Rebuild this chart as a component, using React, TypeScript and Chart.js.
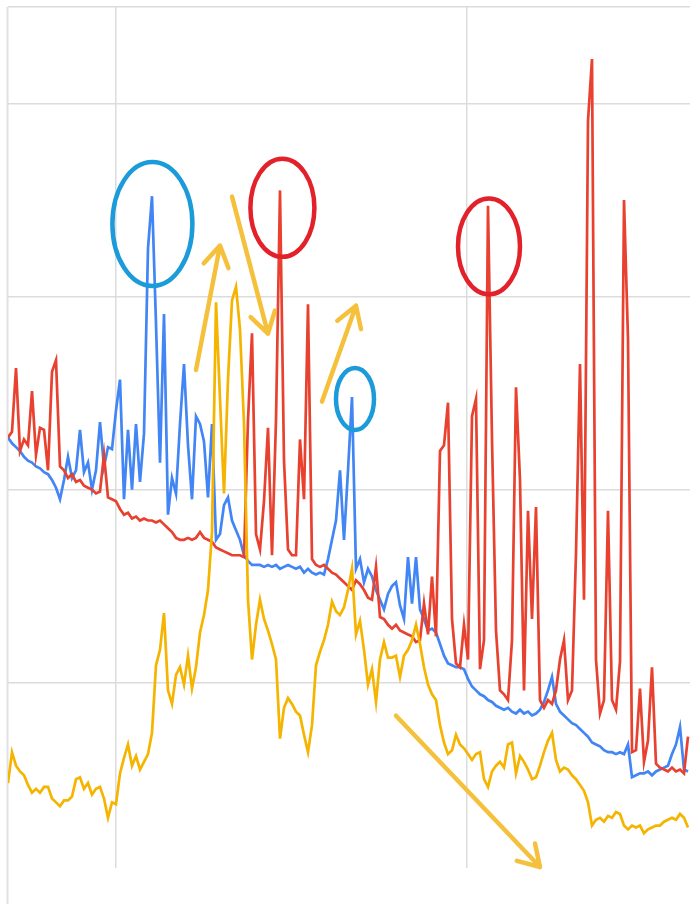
import React, { useEffect, useRef } from "react";
import { Chart, registerables } from "chart.js";

Chart.register(...registerables);

// Weekly interest index (0 = first week shown)
const redSeries: number[] = [
  227, 230, 263, 220, 226, 223, 251, 218, 232, 231,
  210, 261, 267, 212, 210, 206, 208, 204, 205, 202,
  201, 200, 198, 199, 218, 196, 195, 194, 190, 187,
  188, 185, 186, 184, 185, 184, 184, 183, 184, 182,
  180, 178, 175, 174, 174, 175, 174, 175, 178, 175,
  174, 173, 170, 169, 168, 167, 166, 166, 166, 165,
  236, 281, 177, 169, 194, 232, 166, 236, 355, 215,
  169, 166, 166, 226, 195, 296, 164, 161, 160, 161,
  159, 157, 156, 154, 152, 150, 148, 153, 151, 148,
  144, 143, 160, 134, 133, 130, 128, 130, 127, 126,
  125, 124, 121, 122, 141, 125, 155, 124, 220, 223,
  245, 133, 110, 108, 130, 112, 238, 247, 107, 122,
  347, 226, 127, 96, 94, 91, 122, 253, 205, 96,
  189, 133, 191, 91, 87, 91, 89, 96, 112, 122,
  91, 96, 167, 265, 143, 391, 423, 112, 84, 91,
  189, 91, 86, 111, 350, 278, 64, 65, 97, 59,
  70, 108, 58, 56, 55, 54, 56, 54, 55, 53,
  72,
];

const blueSeries: number[] = [
  227, 224, 222, 220, 217, 215, 214, 212, 211, 209,
  208, 205, 201, 195, 205, 217, 206, 210, 231, 209,
  214, 200, 210, 235, 212, 222, 221, 241, 257, 195,
  231, 200, 234, 204, 229, 325, 352, 286, 214, 291,
  187, 206, 198, 234, 265, 223, 195, 238, 234, 225,
  196, 234, 174, 177, 192, 196, 184, 179, 174, 166,
  163, 161, 161, 161, 160, 161, 160, 161, 159, 160,
  161, 160, 159, 160, 157, 159, 157, 156, 157, 156,
  164, 174, 184, 210, 174, 210, 248, 159, 164, 152,
  159, 155, 148, 143, 138, 146, 150, 152, 140, 133,
  165, 141, 165, 138, 133, 127, 128, 126, 120, 114,
  110, 109, 108, 108, 107, 102, 98, 96, 94, 93,
  91, 90, 88, 87, 86, 87, 85, 84, 86, 84,
  85, 83, 84, 86, 90, 96, 103, 89, 85, 83,
  81, 79, 78, 76, 74, 72, 69, 68, 67, 65,
  64, 64, 63, 64, 63, 68, 51, 52, 53, 53,
  54, 52, 54, 55, 56, 57, 63, 68, 77, 55,
  54,
];

const yellowSeries: number[] = [
  48, 64, 57, 54, 52, 47, 43, 45, 43, 46,
  46, 40, 38, 36, 39, 39, 41, 50, 51, 45,
  48, 42, 45, 46, 40, 30, 38, 37, 53, 61,
  68, 57, 62, 55, 59, 63, 74, 109, 117, 136,
  96, 89, 104, 108, 99, 114, 97, 108, 126, 135,
  148, 178, 297, 247, 198, 257, 298, 305, 283, 234,
  143, 112, 130, 143, 133, 127, 120, 112, 71, 87,
  92, 89, 85, 83, 73, 64, 78, 109, 116, 122,
  130, 142, 137, 135, 139, 148, 159, 125, 132, 117,
  99, 107, 90, 112, 121, 113, 113, 114, 103, 114,
  117, 122, 130, 120, 108, 99, 94, 91, 78, 69,
  63, 65, 73, 68, 66, 63, 60, 63, 64, 50,
  46, 54, 57, 59, 56, 68, 69, 53, 62, 59,
  55, 50, 51, 57, 64, 70, 74, 60, 54, 56,
  55, 52, 50, 47, 44, 38, 26, 29, 30, 28,
  31, 30, 33, 32, 26, 24, 26, 25, 26, 22,
  24, 25, 26, 26, 28, 29, 30, 29, 32, 30,
  25,
];

// Year boundaries (week index) and value gridlines
const yearTicks: number[] = [27, 114.75];
const valueTicks: number[] = [100, 200, 300, 400, 450];

// Hand-drawn annotations (data coordinates)
const circleMarks = [
  { x: 36.1, y: 337.6, rx: 40, ry: 62, color: "#1b9bd9" },
  { x: 68.6, y: 346, rx: 32, ry: 49, color: "#e3212b" },
  { x: 120.25, y: 326, rx: 31, ry: 48, color: "#e3212b" },
  { x: 86.75, y: 247, rx: 19, ry: 31, color: "#1b9bd9" },
];
const arrowMarks = [
  { x1: 47, y1: 262, x2: 53, y2: 326.4 },
  { x1: 56, y1: 351.8, x2: 65, y2: 280.8 },
  { x1: 78.5, y1: 245.6, x2: 87, y2: 295.3 },
  { x1: 97, y1: 82.9, x2: 133, y2: 4.5 },
];

const annotatePlugin = {
  id: "annotate",
  beforeDraw(chart: any) {
    const { ctx, chartArea } = chart;
    ctx.save();
    ctx.strokeStyle = "#e0e0e0";
    ctx.lineWidth = 2;
    ctx.beginPath();
    ctx.moveTo(chartArea.left - 0.5, chartArea.top);
    ctx.lineTo(chartArea.left - 0.5, chart.height);
    ctx.stroke();
    ctx.restore();
  },
  afterDraw(chart: any) {
    const { ctx } = chart;
    const xs = chart.scales.x;
    const ys = chart.scales.y;
    ctx.save();
    ctx.lineWidth = 4.5;
    circleMarks.forEach((c) => {
      ctx.strokeStyle = c.color;
      ctx.beginPath();
      ctx.ellipse(xs.getPixelForValue(c.x), ys.getPixelForValue(c.y), c.rx, c.ry, 0, 0, Math.PI * 2);
      ctx.stroke();
    });
    ctx.strokeStyle = "#f5c03c";
    ctx.lineCap = "round";
    ctx.lineJoin = "round";
    ctx.lineWidth = 4.5;
    arrowMarks.forEach((a) => {
      const px1 = xs.getPixelForValue(a.x1);
      const py1 = ys.getPixelForValue(a.y1);
      const px2 = xs.getPixelForValue(a.x2);
      const py2 = ys.getPixelForValue(a.y2);
      const ang = Math.atan2(py2 - py1, px2 - px1);
      const len = 24;
      const spread = 0.55;
      ctx.beginPath();
      ctx.moveTo(px1, py1);
      ctx.lineTo(px2, py2);
      ctx.moveTo(px2 - len * Math.cos(ang - spread), py2 - len * Math.sin(ang - spread));
      ctx.lineTo(px2, py2);
      ctx.lineTo(px2 - len * Math.cos(ang + spread), py2 - len * Math.sin(ang + spread));
      ctx.stroke();
    });
    ctx.restore();
  },
};

export default function App() {
  const ref = useRef<HTMLCanvasElement>(null);
  useEffect(() => {
    const toPoints = (arr: number[]) => arr.map((v, i) => ({ x: i, y: v }));
    const chart = new Chart(ref.current as HTMLCanvasElement, {
      type: "line",
      data: {
        datasets: [
          { label: "yellow", data: toPoints(yellowSeries), borderColor: "#f4b400", borderWidth: 2.7, pointRadius: 0, tension: 0 },
          { label: "red", data: toPoints(redSeries), borderColor: "#e8412f", borderWidth: 2.7, pointRadius: 0, tension: 0 },
          { label: "blue", data: toPoints(blueSeries), borderColor: "#4285f4", borderWidth: 2.7, pointRadius: 0, tension: 0 },
        ],
      },
      options: {
        animation: false,
        responsive: false,
        devicePixelRatio: 1,
        layout: { padding: { left: 8, top: 7, right: 4, bottom: 36 } },
        plugins: { legend: { display: false }, tooltip: { enabled: false } },
        scales: {
          x: {
            type: "linear",
            min: 0,
            max: 170.5,
            ticks: { display: false },
            border: { display: false },
            grid: { color: "#dcdcdc", lineWidth: 1.5, drawTicks: false },
            afterBuildTicks: (s: any) => {
              s.ticks = yearTicks.map((v) => ({ value: v }));
            },
          },
          y: {
            type: "linear",
            min: 4,
            max: 450,
            ticks: { display: false },
            border: { display: false },
            grid: { color: "#dcdcdc", lineWidth: 1.5, drawTicks: false },
            afterBuildTicks: (s: any) => {
              s.ticks = valueTicks.map((v) => ({ value: v }));
            },
          },
        },
      } as any,
      plugins: [annotatePlugin],
    });
    return () => chart.destroy();
  }, []);
  return (
    <div style={{ position: "fixed", left: 0, top: 0, width: 694, height: 904, background: "#ffffff" }}>
      <canvas ref={ref} width={694} height={904} style={{ display: "block", width: 694, height: 904 }} />
    </div>
  );
}
